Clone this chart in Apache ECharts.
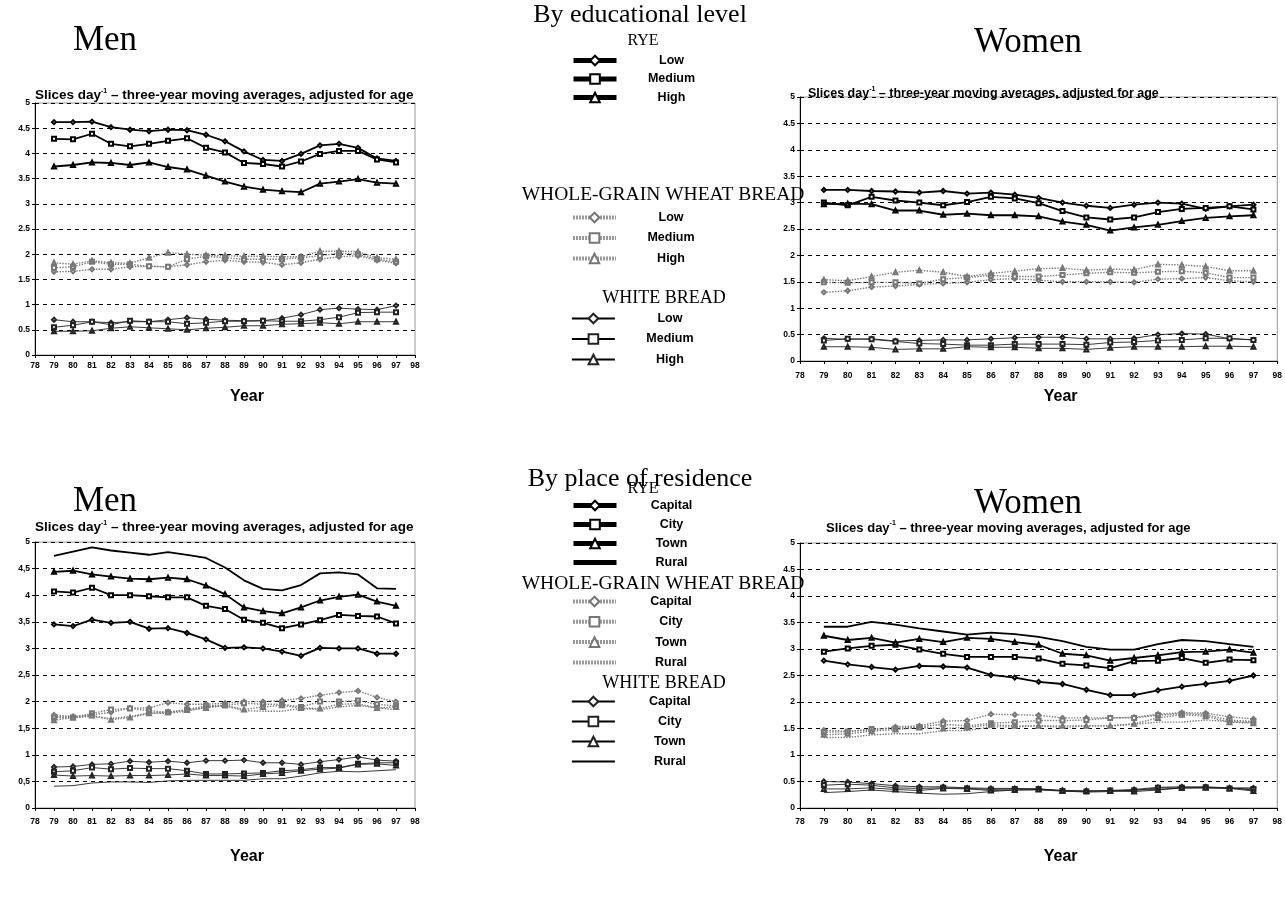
<!DOCTYPE html>
<html><head><meta charset="utf-8">
<script src="https://cdn.jsdelivr.net/npm/echarts@6/dist/echarts.min.js"></script>
<style>html,body{margin:0;padding:0;background:#fff}#c{width:1285px;height:917px}</style>
</head><body><div id="c"></div>
<script>
const years = [79,80,81,82,83,84,85,86,87,88,89,90,91,92,93,94,95,96,97];
const yTicks = [0,0.5,1,1.5,2,2.5,3,3.5,4,4.5,5];
const eduLevels = ['Low','Medium','High'];
const resLevels = ['Capital','City','Town','Rural'];
const breads = ['RYE','WGW','WHITE'];
const breadTitles = ['RYE','WHOLE-GRAIN WHEAT BREAD','WHITE BREAD'];
const sectionTitles = ['By educational level','By place of residence'];
const sexTitles = ['Men','Women'];

// Men, by education
const menEduRyeLow   = [4.62,4.62,4.63,4.52,4.47,4.44,4.47,4.46,4.37,4.24,4.04,3.87,3.85,3.99,4.16,4.19,4.11,3.90,3.85];
const menEduRyeMed   = [4.29,4.28,4.39,4.19,4.14,4.19,4.25,4.30,4.11,4.02,3.81,3.79,3.74,3.84,3.99,4.05,4.05,3.88,3.82];
const menEduRyeHigh  = [3.74,3.77,3.82,3.81,3.77,3.82,3.73,3.68,3.56,3.44,3.34,3.28,3.25,3.23,3.40,3.44,3.49,3.42,3.40];
const menEduWgwLow   = [1.65,1.66,1.70,1.70,1.75,1.76,1.75,1.79,1.85,1.88,1.85,1.84,1.79,1.83,1.90,1.95,1.97,1.88,1.82];
const menEduWgwMed   = [1.73,1.75,1.85,1.80,1.80,1.76,1.75,1.90,1.96,1.93,1.90,1.90,1.90,1.93,1.97,2.02,2.00,1.90,1.85];
const menEduWgwHigh  = [1.83,1.80,1.87,1.83,1.82,1.93,2.03,2.00,1.98,1.97,1.96,1.96,1.95,1.95,2.06,2.06,2.05,1.93,1.90];
const menEduWhiteLow = [0.70,0.66,0.66,0.64,0.66,0.66,0.70,0.74,0.71,0.69,0.68,0.68,0.73,0.80,0.90,0.93,0.91,0.90,0.98];
const menEduWhiteMed = [0.55,0.59,0.66,0.60,0.68,0.66,0.66,0.62,0.64,0.67,0.67,0.68,0.67,0.67,0.70,0.75,0.84,0.85,0.85];
const menEduWhiteHigh= [0.47,0.47,0.48,0.53,0.56,0.54,0.52,0.50,0.53,0.55,0.58,0.58,0.61,0.62,0.64,0.62,0.66,0.66,0.66];

// Women, by education
const womenEduRyeLow   = [3.24,3.24,3.22,3.21,3.19,3.22,3.17,3.19,3.15,3.09,3.00,2.94,2.90,2.96,3.00,2.98,2.88,2.93,2.96];
const womenEduRyeMed   = [3.00,2.95,3.11,3.04,3.00,2.95,3.01,3.11,3.08,2.99,2.84,2.72,2.68,2.72,2.82,2.88,2.90,2.93,2.87];
const womenEduRyeHigh  = [2.97,2.98,2.97,2.85,2.85,2.77,2.79,2.76,2.76,2.74,2.64,2.58,2.47,2.53,2.58,2.65,2.71,2.74,2.76];
const womenEduWgwLow   = [1.30,1.33,1.40,1.42,1.45,1.47,1.49,1.54,1.56,1.53,1.50,1.50,1.50,1.49,1.55,1.56,1.58,1.52,1.50];
const womenEduWgwMed   = [1.49,1.48,1.49,1.49,1.47,1.55,1.58,1.62,1.60,1.60,1.63,1.66,1.68,1.67,1.69,1.70,1.67,1.58,1.58];
const womenEduWgwHigh  = [1.54,1.52,1.60,1.68,1.72,1.68,1.60,1.66,1.70,1.75,1.76,1.72,1.74,1.73,1.83,1.82,1.79,1.71,1.71];
const womenEduWhiteLow = [0.43,0.41,0.42,0.38,0.39,0.40,0.40,0.42,0.44,0.45,0.45,0.42,0.42,0.43,0.50,0.52,0.51,0.42,0.40];
const womenEduWhiteMed = [0.39,0.42,0.41,0.37,0.33,0.32,0.30,0.30,0.32,0.32,0.32,0.31,0.35,0.36,0.39,0.40,0.43,0.43,0.40];
const womenEduWhiteHigh= [0.27,0.27,0.26,0.22,0.23,0.23,0.27,0.26,0.26,0.24,0.24,0.22,0.25,0.27,0.27,0.27,0.28,0.28,0.27];

// Men, by place of residence
const menResRyeCapital = [3.45,3.42,3.54,3.48,3.50,3.37,3.38,3.29,3.17,3.01,3.02,3.00,2.94,2.86,3.01,3.00,3.00,2.90,2.90];
const menResRyeCity    = [4.07,4.05,4.14,4.00,4.00,3.98,3.96,3.96,3.80,3.74,3.54,3.48,3.38,3.45,3.53,3.63,3.61,3.60,3.47];
const menResRyeTown    = [4.44,4.46,4.39,4.35,4.31,4.30,4.33,4.30,4.18,4.02,3.77,3.70,3.66,3.77,3.90,3.97,4.01,3.88,3.80];
const menResRyeRural   = [4.74,4.82,4.90,4.84,4.80,4.76,4.81,4.76,4.70,4.52,4.28,4.12,4.09,4.19,4.41,4.43,4.39,4.13,4.12];
const menResWgwCapital = [1.75,1.72,1.75,1.80,1.88,1.88,1.98,1.95,1.95,1.97,2.00,2.00,2.02,2.06,2.12,2.17,2.20,2.08,2.00];
const menResWgwCity    = [1.70,1.70,1.78,1.85,1.87,1.83,1.80,1.85,1.92,1.93,1.97,1.95,1.95,1.90,2.00,2.00,2.02,1.95,1.92];
const menResWgwTown    = [1.65,1.70,1.74,1.66,1.70,1.78,1.80,1.84,1.88,1.93,1.85,1.90,1.93,1.88,1.87,1.95,1.96,1.88,1.90];
const menResWgwRural   = [1.72,1.70,1.72,1.68,1.72,1.78,1.78,1.82,1.90,1.92,1.83,1.82,1.82,1.87,1.85,1.90,1.93,1.88,1.85];
const menResWhiteCapital = [0.77,0.78,0.82,0.83,0.88,0.86,0.88,0.85,0.89,0.89,0.90,0.85,0.85,0.82,0.87,0.91,0.96,0.90,0.88];
const menResWhiteCity    = [0.68,0.70,0.76,0.73,0.75,0.74,0.74,0.70,0.64,0.64,0.65,0.66,0.70,0.72,0.76,0.76,0.83,0.85,0.85];
const menResWhiteTown    = [0.62,0.60,0.61,0.60,0.61,0.61,0.62,0.64,0.61,0.61,0.60,0.64,0.66,0.70,0.73,0.75,0.82,0.83,0.80];
const menResWhiteRural   = [0.41,0.42,0.47,0.49,0.49,0.48,0.51,0.52,0.52,0.52,0.52,0.55,0.55,0.60,0.66,0.69,0.68,0.70,0.72];

// Women, by place of residence
const womenResRyeCapital = [2.78,2.71,2.66,2.61,2.68,2.67,2.65,2.51,2.46,2.38,2.34,2.23,2.13,2.13,2.22,2.29,2.34,2.40,2.50];
const womenResRyeCity    = [2.95,3.01,3.06,3.08,2.99,2.91,2.85,2.85,2.85,2.82,2.72,2.69,2.64,2.77,2.78,2.83,2.74,2.80,2.79];
const womenResRyeTown    = [3.25,3.17,3.21,3.12,3.19,3.13,3.21,3.19,3.13,3.08,2.91,2.88,2.78,2.83,2.88,2.94,2.95,2.99,2.93];
const womenResRyeRural   = [3.42,3.42,3.51,3.46,3.39,3.33,3.27,3.31,3.28,3.23,3.15,3.04,2.99,2.99,3.09,3.17,3.15,3.09,3.04];
const womenResWgwCapital = [1.47,1.45,1.47,1.53,1.55,1.64,1.65,1.77,1.76,1.75,1.70,1.70,1.70,1.71,1.77,1.80,1.79,1.72,1.68];
const womenResWgwCity    = [1.43,1.44,1.49,1.50,1.53,1.58,1.55,1.60,1.62,1.65,1.65,1.66,1.70,1.70,1.75,1.78,1.76,1.66,1.63];
const womenResWgwTown    = [1.38,1.40,1.45,1.48,1.52,1.50,1.52,1.57,1.55,1.55,1.55,1.55,1.55,1.59,1.70,1.76,1.73,1.62,1.60];
const womenResWgwRural   = [1.33,1.33,1.38,1.40,1.40,1.46,1.46,1.53,1.53,1.55,1.52,1.55,1.55,1.58,1.62,1.62,1.66,1.63,1.62];
const womenResWhiteCapital = [0.50,0.49,0.46,0.42,0.40,0.40,0.38,0.37,0.37,0.36,0.33,0.32,0.33,0.35,0.39,0.40,0.40,0.38,0.38];
const womenResWhiteCity    = [0.43,0.45,0.43,0.38,0.37,0.38,0.37,0.35,0.36,0.36,0.32,0.31,0.33,0.33,0.38,0.38,0.39,0.37,0.36];
const womenResWhiteTown    = [0.36,0.36,0.38,0.35,0.33,0.37,0.36,0.33,0.34,0.35,0.33,0.32,0.32,0.31,0.34,0.38,0.38,0.37,0.32];
const womenResWhiteRural   = [0.29,0.31,0.34,0.31,0.28,0.26,0.27,0.31,0.34,0.34,0.32,0.30,0.31,0.34,0.35,0.38,0.38,0.38,0.34];

const panels = [
  {sec:'edu', levels:eduLevels, grid:0, data:{
    RYE:[menEduRyeLow,menEduRyeMed,menEduRyeHigh],
    WGW:[menEduWgwLow,menEduWgwMed,menEduWgwHigh],
    WHITE:[menEduWhiteLow,menEduWhiteMed,menEduWhiteHigh]}},
  {sec:'edu', levels:eduLevels, grid:1, data:{
    RYE:[womenEduRyeLow,womenEduRyeMed,womenEduRyeHigh],
    WGW:[womenEduWgwLow,womenEduWgwMed,womenEduWgwHigh],
    WHITE:[womenEduWhiteLow,womenEduWhiteMed,womenEduWhiteHigh]}},
  {sec:'res', levels:resLevels, grid:2, data:{
    RYE:[menResRyeCapital,menResRyeCity,menResRyeTown,menResRyeRural],
    WGW:[menResWgwCapital,menResWgwCity,menResWgwTown,menResWgwRural],
    WHITE:[menResWhiteCapital,menResWhiteCity,menResWhiteTown,menResWhiteRural]}},
  {sec:'res', levels:resLevels, grid:3, data:{
    RYE:[womenResRyeCapital,womenResRyeCity,womenResRyeTown,womenResRyeRural],
    WGW:[womenResWgwCapital,womenResWgwCity,womenResWgwTown,womenResWgwRural],
    WHITE:[womenResWhiteCapital,womenResWhiteCity,womenResWhiteTown,womenResWhiteRural]}}
];

const lineStyles = {
  RYE:{color:'#000', width:1.8, type:'solid'},
  WGW:{color:'#777', width:1.4, type:'dotted'},
  WHITE:{color:'#222', width:0.9, type:'solid'}
};
const legendLine = {
  RYE:{width:5, type:'solid', color:'#000'},
  WGW:{width:4, type:[2,1], color:'#999'},
  WHITE:{width:1.8, type:'solid', color:'#000'}
};
const symbols = {Low:'emptyDiamond', Medium:'emptyRect', High:'emptyTriangle',
  Capital:'emptyDiamond', City:'emptyRect', Town:'emptyTriangle', Rural:'none'};

const SANS = 'Liberation Sans';
const SERIF = 'Liberation Serif';

const gridsPx = [
  {left:35, top:103, width:380, height:252},
  {left:800, top:97, width:480, height:264},
  {left:35, top:542, width:380, height:266},
  {left:800, top:543, width:480, height:265}
];
const yFormat = [v=>String(v), v=>String(v), v=>String(v).replace('.',','), v=>String(v)];
const nameGaps = [34, 28, 41, 41];
const xLabelMargins = [6, 10, 9, 9];

const series = [];
panels.forEach(p=>{
  breads.slice().reverse().forEach(b=>{
    p.levels.forEach((lv,i)=>{
      series.push({
        type:'line', name:p.sec+'|'+b+'|'+lv,
        xAxisIndex:p.grid, yAxisIndex:p.grid,
        data: years.map((y,k)=>[y, p.data[b][i][k]]),
        symbol:symbols[lv], symbolSize:4, showSymbol:true,
        lineStyle:Object.assign({}, lineStyles[b]),
        itemStyle:{color:lineStyles[b].color, borderWidth:1},
        silent:true, animation:false, z: b==='RYE'?4:(b==='WGW'?3:2)
      });
    });
  });
});

// legend layout: first item centre and item spacing
const legendLayout = {
  edu:{RYE:[60,17.5], WGW:[217,19.5], WHITE:[318,19.5]},
  res:{RYE:[505,18], WGW:[601,19.3], WHITE:[701,19]}
};
const legends = [];
['edu','res'].forEach(sec=>{
  const levels = sec==='edu'?eduLevels:resLevels;
  breads.forEach(b=>{
    const [c0, step] = legendLayout[sec][b];
    legends.push({
      orient:'vertical', left:571, top:c0-6,
      itemWidth:43, itemHeight:12, itemGap:step-12, selectedMode:false, padding:0,
      data: levels.map(lv=>{
        const d = {name: sec+'|'+b+'|'+lv};
        if (lv==='Rural') d.itemStyle = {opacity:0};
        return d;
      }),
      formatter: n=>'{t|'+n.split('|')[2]+'}',
      lineStyle: legendLine[b],
      itemStyle:{borderWidth:1.6},
      textStyle:{rich:{t:{width:100, align:'center', fontFamily:SANS, fontWeight:'bold', fontSize:12.5, lineHeight:12, color:'#000'}}}
    });
  });
});

const graphics = [];
function txt(x,y,text,font,align){
  graphics.push({type:'text', silent:true, style:{x:x, y:y, text:text, font:font, fill:'#000',
    textAlign:align||'center', textVerticalAlign:'middle', verticalAlign:'middle'}});
}
txt(640,15,sectionTitles[0],'26px '+SERIF);
txt(640,479,sectionTitles[1],'26px '+SERIF);
txt(105,41,sexTitles[0],'35px '+SERIF);
txt(1028,43,sexTitles[1],'35px '+SERIF);
txt(105,502,sexTitles[0],'35px '+SERIF);
txt(1028,504,sexTitles[1],'35px '+SERIF);
txt(643,41,breadTitles[0],'16px '+SERIF);
txt(663,195,breadTitles[1],'19.5px '+SERIF);
txt(664,298,breadTitles[2],'18px '+SERIF);
txt(643,489,breadTitles[0],'16px '+SERIF);
txt(663,584,breadTitles[1],'19.5px '+SERIF);
txt(664,683,breadTitles[2],'18px '+SERIF);

const subPos = [[35,95,13.5],[808,93,12.5],[35,527,13.5],[826,527,13]];
subPos.forEach(([x,y,fs])=>{
  graphics.push({type:'text', silent:true, style:{x:x, y:y,
    text:'{a|Slices day}{s|-1}{a| – three-year moving averages, adjusted for age}',
    textVerticalAlign:'middle', verticalAlign:'middle', fill:'#000',
    rich:{a:{fontFamily:SANS, fontWeight:'bold', fontSize:fs, lineHeight:15, verticalAlign:'bottom'},
          s:{fontFamily:SANS, fontWeight:'bold', fontSize:7, lineHeight:15, verticalAlign:'top'}}}});
});

const option = {
  backgroundColor:'#fff',
  animation:false,
  textStyle:{fontFamily:SANS},
  grid: gridsPx.map(g=>Object.assign({show:true, borderColor:'#999', borderWidth:1, backgroundColor:'transparent', containLabel:false}, g)),
  xAxis: gridsPx.map((g,i)=>({
    type:'value', gridIndex:i, min:78, max:98, interval:1,
    name:'Year', nameLocation:'middle', nameGap:nameGaps[i],
    nameTextStyle:{fontFamily:SANS, fontWeight:'bold', fontSize:16, color:'#000', padding:[0,0,0,44]},
    axisLine:{show:true, onZero:false, lineStyle:{color:'#000', width:1}},
    axisTick:{show:true, length:3, lineStyle:{color:'#000'}},
    axisLabel:{fontFamily:SANS, fontWeight:'bold', fontSize:8.5, color:'#000', margin:xLabelMargins[i]},
    splitLine:{show:false}
  })),
  yAxis: gridsPx.map((g,i)=>({
    type:'value', gridIndex:i, min:yTicks[0], max:yTicks[yTicks.length-1], interval:yTicks[1]-yTicks[0],
    axisLine:{show:true, lineStyle:{color:'#000', width:1}},
    axisTick:{show:true, length:3, lineStyle:{color:'#000'}},
    axisLabel:{fontFamily:SANS, fontWeight:'bold', fontSize:8.5, color:'#000', margin:5, formatter:yFormat[i]},
    splitLine:{show:true, lineStyle:{color:'#000', width:1, type:[4,4]}}
  })),
  legend: legends,
  graphic: graphics,
  series: series
};
const chart = echarts.init(document.getElementById('c'), null, {renderer:'canvas'});
chart.setOption(option);
</script></body></html>
